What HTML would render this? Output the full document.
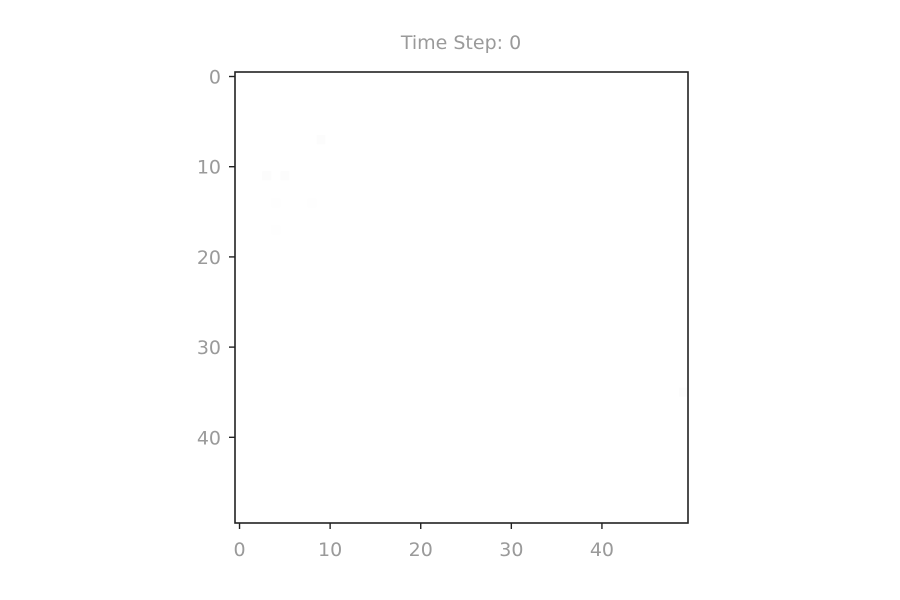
<!DOCTYPE html>
<html><head><meta charset="utf-8"><style>
html,body{margin:0;padding:0;background:#fff;width:900px;height:600px;overflow:hidden}
svg text{font-family:"DejaVu Sans","Liberation Sans",sans-serif;fill:#9a9a9a}
</style></head><body>
<svg id="chart" width="900" height="600" viewBox="0 0 900 600">
<rect width="900" height="600" fill="#fff"/>
<text x="461" y="49" font-size="19" text-anchor="middle">Time Step: 0</text>
<g id="cells"></g>
<g id="axes"></g>
</svg>
<script>
const gridSize = 50;
// sparse faint cells: [row, col, value 0..1]
const cellRows = [7, 11, 11, 14, 14, 17, 35];
const cellCols = [9, 3, 5, 4, 8, 4, 49];
const cellValues = [0.01, 0.01, 0.01, 0.005, 0.005, 0.005, 0.01];
const xTicks = [0, 10, 20, 30, 40];
const yTicks = [0, 10, 20, 30, 40];

const L = 235, T = 72, W = 453, H = 451;
const cw = W / gridSize, ch = H / gridSize;
const xPos = c => L + (c + 0.5) * cw;
const yPos = r => T + (r + 0.5) * ch;
const NS = "http://www.w3.org/2000/svg";
const cells = document.getElementById('cells');
const axes = document.getElementById('axes');

for (let i = 0; i < cellValues.length; i++) {
  const r = document.createElementNS(NS, 'rect');
  
  
  r.setAttribute('x', xPos(cellCols[i]) - cw / 2);
  r.setAttribute('y', yPos(cellRows[i]) - ch / 2);
  r.setAttribute('width', cw);
  r.setAttribute('height', ch);
  const g = Math.round(255 - cellValues[i] * 255);
  r.setAttribute('fill', `rgb(${g},${g},${g})`);
  cells.appendChild(r);
}

const frame = document.createElementNS(NS, 'rect');


frame.setAttribute('x', L); frame.setAttribute('y', T);
frame.setAttribute('width', W); frame.setAttribute('height', H);
frame.setAttribute('fill', 'none'); frame.setAttribute('stroke', '#222'); frame.setAttribute('stroke-width', '1.6');
axes.appendChild(frame);

xTicks.forEach(v => {
  const x = xPos(v);
  const ln = document.createElementNS(NS, 'line');
  
  
  ln.setAttribute('x1', x); ln.setAttribute('x2', x);
  ln.setAttribute('y1', T + H); ln.setAttribute('y2', T + H + 6);
  ln.setAttribute('stroke', '#222'); ln.setAttribute('stroke-width', '1.4');
  axes.appendChild(ln);
  const t = document.createElementNS(NS, 'text');
  
  
  t.setAttribute('x', x); t.setAttribute('y', T + H + 33);
  t.setAttribute('font-size', '19'); t.setAttribute('text-anchor', 'middle');
  t.textContent = v;
  axes.appendChild(t);
});
yTicks.forEach(v => {
  const y = yPos(v);
  const ln = document.createElementNS(NS, 'line');
  
  
  ln.setAttribute('x1', L - 6); ln.setAttribute('x2', L);
  ln.setAttribute('y1', y); ln.setAttribute('y2', y);
  ln.setAttribute('stroke', '#222'); ln.setAttribute('stroke-width', '1.4');
  axes.appendChild(ln);
  const t = document.createElementNS(NS, 'text');
  
  
  t.setAttribute('x', L - 14); t.setAttribute('y', y + 7);
  t.setAttribute('font-size', '19'); t.setAttribute('text-anchor', 'end');
  t.textContent = v;
  axes.appendChild(t);
});
</script>
</body></html>
